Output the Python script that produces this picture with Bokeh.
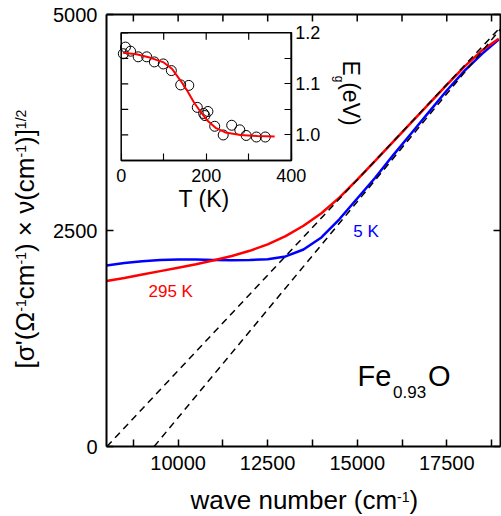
import math
from bokeh.plotting import figure
from bokeh.models import Range1d, LinearAxis, FixedTicker, Label, PrintfTickFormatter
from bokeh.embed import file_html
from bokeh.resources import INLINE

# ---------------- data ----------------
wave_number = [8000, 8500, 9000, 9500, 10000, 10500, 11000, 11500, 12000, 12500, 13000,
               13500, 14000, 14500, 15000, 15500, 16000, 16500, 17000, 17500, 18000, 18500, 18950]
sigma_295K = [1915, 1950, 1990, 2030, 2070, 2110, 2155, 2205, 2265, 2340, 2435,
              2555, 2700, 2880, 3090, 3305, 3525, 3745, 3965, 4185, 4400, 4590, 4720]
sigma_5K = [2095, 2125, 2145, 2158, 2163, 2163, 2160, 2157, 2158, 2168, 2200,
            2280, 2420, 2630, 2870, 3110, 3370, 3620, 3870, 4120, 4350, 4550, 4710]
fit_295K_x = [8010, 19000]
fit_295K_y = [0, 4854]
fit_5K_x = [9330, 19000]
fit_5K_y = [0, 4832]

x_ticks = [10000, 12500, 15000, 17500]
x_minor = [8750, 11250, 13750, 16250, 18750]
y_ticks = [0, 2500, 5000]

T_data = [5, 10, 22, 40, 60, 78, 99, 118, 140, 159, 179, 194, 197, 204, 220, 240, 260, 279, 294, 318, 339]
Eg_data = [1.159, 1.172, 1.164, 1.153, 1.153, 1.143, 1.139, 1.126, 1.098, 1.097, 1.054, 1.042,
           1.038, 1.046, 1.017, 1.000, 1.019, 1.010, 0.999, 0.996, 0.996]
T_fit = [4, 36, 69, 100, 120, 140, 155, 171, 187, 202, 222, 245, 281, 320, 361]
Eg_fit = [1.161, 1.158, 1.151, 1.142, 1.129, 1.106, 1.087, 1.064, 1.045, 1.029, 1.014,
          1.005, 1.000, 0.998, 0.997]
T_ticks = [0, 200, 400]
T_minor = [100, 300]
Eg_ticks = [1.0, 1.1, 1.2]
Eg_minor = [0.95, 1.05, 1.15]

# ---------------- layout ----------------
W, H = 501, 516
FL, FT, FR, FB = 106, 14, 500, 446          # main plot box (px)
XR = (8000, 19000)
YR = (0, 5000)
IL, IT, IR, IB = 120.7, 32.3, 290.7, 160.0  # inset box (px)
TR = (0, 400)
ER = (0.95, 1.2)
FONT = "Liberation Sans"
TICK = 7


def px2x(px):
    return XR[0] + (px - FL) / (FR - FL) * (XR[1] - XR[0])


def py2y(py):
    return YR[0] + (FB - py) / (FB - FT) * (YR[1] - YR[0])


def px2t(px):
    return TR[0] + (px - IL) / (IR - IL) * (TR[1] - TR[0])


def py2e(py):
    return ER[0] + (IB - py) / (IB - IT) * (ER[1] - ER[0])


# the frame covers the whole canvas; axes are placed with fixed_location
p = figure(width=W, height=H, x_range=Range1d(px2x(0), px2x(W)),
           y_range=Range1d(py2y(H), py2y(0)),
           output_backend="svg", toolbar_location=None,
           x_axis_location=None, y_axis_location=None,
           min_border_left=0, min_border_top=0, min_border_right=0, min_border_bottom=0)
p.grid.visible = False
p.outline_line_color = None
p.background_fill_color = "white"
p.border_fill_color = "white"
p.extra_x_ranges = {"tin": Range1d(px2t(0), px2t(W))}
p.extra_y_ranges = {"ein": Range1d(py2e(H), py2e(0))}


def style_axis(ax, width=2.0, font="20px", standoff=8):
    ax.axis_line_color = "black"
    ax.axis_line_width = width
    ax.major_tick_line_color = "black"
    ax.minor_tick_line_color = "black"
    ax.major_tick_line_width = width * 0.75
    ax.minor_tick_line_width = width * 0.75
    ax.major_tick_in = TICK
    ax.major_tick_out = 0
    ax.minor_tick_in = TICK
    ax.minor_tick_out = 0
    ax.major_label_text_font = FONT
    ax.major_label_text_font_size = font
    ax.major_label_text_color = "black"
    ax.major_label_standoff = standoff


# ---- main axes ----
xb = LinearAxis(ticker=FixedTicker(ticks=x_ticks, minor_ticks=x_minor),
                fixed_location=YR[0], bounds=XR)
style_axis(xb, standoff=9)
p.add_layout(xb, "below")
yl = LinearAxis(ticker=FixedTicker(ticks=y_ticks, minor_ticks=[]),
                fixed_location=XR[0], bounds=YR)
style_axis(yl, standoff=9)
p.add_layout(yl, "left")

# top and right edges of the box, with inward ticks
p.line([XR[0], XR[1], XR[1]], [YR[1], YR[1], YR[0]], line_color="black", line_width=2)
dyt = TICK * (YR[1] - YR[0]) / (FB - FT)
dxt = TICK * (XR[1] - XR[0]) / (FR - FL)
top_t = x_ticks + x_minor
p.segment(x0=top_t, y0=[YR[1]] * len(top_t), x1=top_t, y1=[YR[1] - dyt] * len(top_t),
          line_color="black", line_width=1.5)
p.segment(x0=[XR[1]] * len(y_ticks), y0=y_ticks, x1=[XR[1] - dxt] * len(y_ticks), y1=y_ticks,
          line_color="black", line_width=1.5)

# ---- main curves ----
p.line(wave_number, sigma_5K, line_color="#0000ff", line_width=2.5)
p.line(wave_number, sigma_295K, line_color="#ff0000", line_width=2.5)
p.line(fit_295K_x, fit_295K_y, line_color="black", line_width=1.5, line_dash="7 5")
p.line(fit_5K_x, fit_5K_y, line_color="black", line_width=1.5, line_dash="7 5")

# ---- inset ----
p.quad(left=[TR[0]], right=[TR[1]], bottom=[ER[0]], top=[ER[1]], fill_color="white",
       line_color="black", line_width=1.5, x_range_name="tin", y_range_name="ein")
p.scatter(T_data, Eg_data, marker="circle", size=10, fill_color=None, line_color="black",
          line_width=1, x_range_name="tin", y_range_name="ein")
p.line(T_fit, Eg_fit, line_color="#ff0000", line_width=2, x_range_name="tin", y_range_name="ein")

tb = LinearAxis(ticker=FixedTicker(ticks=T_ticks, minor_ticks=T_minor), x_range_name="tin",
                y_range_name="ein", fixed_location=ER[0], bounds=TR)
style_axis(tb, width=1.5, font="18px", standoff=8)
p.add_layout(tb, "below")
er = LinearAxis(ticker=FixedTicker(ticks=Eg_ticks, minor_ticks=Eg_minor), x_range_name="tin",
                y_range_name="ein", fixed_location=TR[1], bounds=ER,
                formatter=PrintfTickFormatter(format="%.1f"))
style_axis(er, width=1.5, font="18px", standoff=4)
p.add_layout(er, "right")

# inset top and left inward ticks
dti = TICK * (TR[1] - TR[0]) / (IR - IL)
dei = TICK * (ER[1] - ER[0]) / (IB - IT)
it_top = T_ticks + T_minor
p.segment(x0=it_top, y0=[ER[1]] * len(it_top), x1=it_top, y1=[ER[1] - dei] * len(it_top),
          line_color="black", line_width=1.2, x_range_name="tin", y_range_name="ein")
ie_left = Eg_ticks + Eg_minor
p.segment(x0=[TR[0]] * len(ie_left), y0=ie_left, x1=[TR[0] + dti] * len(ie_left), y1=ie_left,
          line_color="black", line_width=1.2, x_range_name="tin", y_range_name="ein")

# ---------------- texts ----------------
WID = {' ': 278, '.': 278, '(': 333, ')': 333, '[': 278, ']': 278, '/': 278, '-': 333,
       "'": 191, '×': 584, 'σ': 617, 'Ω': 768, 'ν': 500, 'a': 556, 'b': 556, 'c': 500,
       'e': 556, 'g': 556, 'm': 833, 'n': 556, 'r': 333, 'u': 556, 'v': 500, 'w': 722,
       'E': 667, 'F': 611, 'K': 667, 'O': 778, 'T': 611, 'V': 667}
BASE_K = 0.3465   # the label anchor lands this many em above the drawn baseline


def twidth(s, size):
    return sum(WID.get(ch, 556) for ch in s) * size / 1000.0


def label(text, px, py, size, color="black", angle=0.0):
    # (px, py) is the wanted baseline start; shift the anchor along the text's up direction
    ux, uy = -math.sin(angle), -math.cos(angle)
    ax_, ay_ = px + ux * BASE_K * size, py + uy * BASE_K * size
    p.add_layout(Label(x=px2x(ax_), y=py2y(ay_), text=text, text_font=FONT,
                       text_font_size=f"{size}px", text_color=color, angle=angle,
                       text_align="left", text_baseline="alphabetic"))


def run(parts, px, py, angle=0.0, color="black"):
    dx, dy = math.cos(angle), -math.sin(angle)
    ux, uy = -math.sin(angle), -math.cos(angle)
    adv = 0.0
    for text, size, rise in parts:
        label(text, px + dx * adv + ux * rise, py + dy * adv + uy * rise, size, color, angle)
        adv += twidth(text, size)


run([("wave number (cm", 26, 0), ("-1", 14, 8), (")", 26, 0)], 190, 509)
run([("[σ'(Ω", 26, 0), ("-1", 14, 8), ("cm", 26, 0), ("-1", 14, 8), (") × ν(cm", 26, 0),
     ("-1", 14, 8), (")]", 26, 0), ("1/2", 14, 8)], 33.5, 368, angle=math.pi / 2)

label("T (K)", 178, 206.7, 23)
label("E", 343, 60, 23, angle=-math.pi / 2)
label("g", 334, 75.3, 12, angle=-math.pi / 2)
label("(eV)", 343, 81.7, 23, angle=-math.pi / 2)

label("295 K", 148, 296.7, 17, color="#ff0000")
label("5 K", 352.7, 237.3, 17, color="#0000ff")

label("Fe", 357, 386, 29)
label("0.93", 392.5, 397.7, 17)
label("O", 427.5, 386, 29)

open("out.html", "w").write(file_html(p, INLINE))
